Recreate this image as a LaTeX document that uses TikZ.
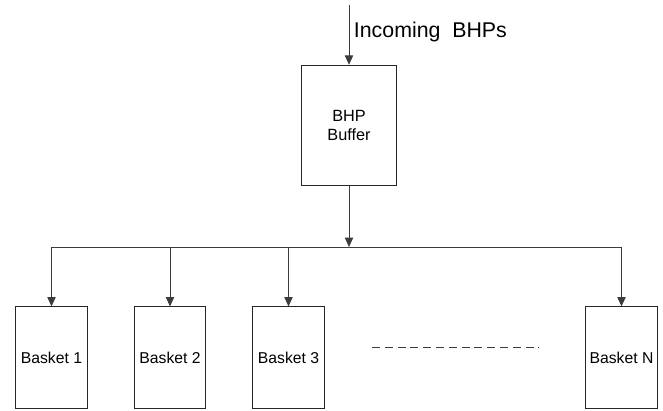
\documentclass[tikz,border=0pt]{standalone}
\usepackage{fontspec}
\setmainfont{Liberation Sans}
\usetikzlibrary{arrows.meta, positioning}
\definecolor{linegray}{RGB}{60,60,60}

\begin{document}
\begin{tikzpicture}[
    x=0.75pt, y=-0.75pt,
    buffer/.style={rectangle, draw=black!85, line width=0.6pt, minimum width=71.5pt,
                   minimum height=90.5pt, font=\fontsize{12.2}{14}\selectfont, align=center,
                   inner sep=0pt},
    basket/.style={rectangle, draw=black!85, line width=0.6pt, minimum width=53.5pt,
                   minimum height=76pt, font=\fontsize{11.8}{13}\selectfont, inner sep=0pt},
    arrow/.style={-{Triangle[length=7pt, width=6.2pt]}, linegray, line width=0.75pt}
]
    \useasboundingbox (0,0) rectangle (663,410);
    % buffer and incoming flow
    \node[buffer] (buf) at (349,125.5) {BHP\\Buffer};
    \coordinate (in) at (349,5);
    \draw[arrow] (in) -- (buf.north)
        node[pos=0.45, right=0pt, font=\fontsize{16}{18}\selectfont, text=black] (inlbl) {Incoming~~BHPs};
    % baskets
    \node[basket] (b1) at (51.5,357.5) {Basket 1};
    \node[basket] (b2) at (170,357.5) {Basket 2};
    \node[basket] (b3) at (288.5,357.5) {Basket 3};
    \node[basket] (bn) at (621.5,357.5) {Basket N};
    % distribution bus
    \coordinate (busl) at (b1.north |- 0,247);
    \coordinate (busr) at (bn.north |- 0,247);
    \coordinate (busm) at (buf.south |- 0,247);
    \draw[linegray, line width=0.75pt] (busl) -- (busr);
    \draw[arrow] (buf.south) -- (busm);
    \foreach \b in {b1,b2,b3,bn}
        \draw[arrow] (\b.north |- busl) -- (\b.north);
    % more baskets
    \coordinate (dotsl) at (372,347);
    \coordinate (dotsr) at (539,347);
    \draw[linegray, line width=0.6pt, dash pattern=on 6pt off 3.6pt] (dotsl) -- (dotsr);
\end{tikzpicture}
\end{document}
